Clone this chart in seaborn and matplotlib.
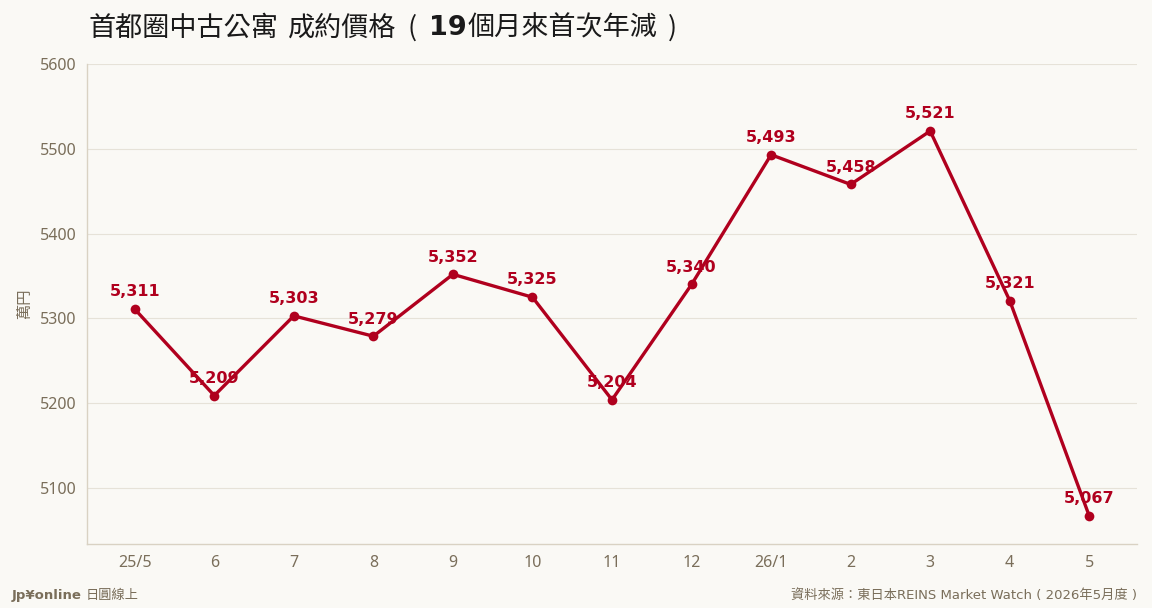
import matplotlib
matplotlib.use("Agg")
import matplotlib.pyplot as plt
import seaborn as sns
import pandas as pd

months = ["25/5", "6", "7", "8", "9", "10", "11", "12", "26/1", "2", "3", "4", "5"]
prices = [5311, 5209, 5303, 5279, 5352, 5325, 5204, 5340, 5493, 5458, 5521, 5321, 5067]
yticks = [5100, 5200, 5300, 5400, 5500, 5600]

BG = "#faf9f5"
RED = "#b0001e"
TXT = "#7a6e5a"
GRID = "#e6e2d8"
SPINE = "#d9d2c3"

sns.set_theme(style="white")
DJ = ["DejaVu Sans", "Noto Sans CJK TC"]
CJK = ["Noto Sans CJK TC", "DejaVu Sans"]
plt.rcParams["font.family"] = DJ

df = pd.DataFrame({"x": range(len(months)), "price": prices})

fig = plt.figure(figsize=(11.52, 6.08), dpi=100, facecolor=BG)
ax = fig.add_axes([87/1152, 1-544/608, (1137-87)/1152, (544-64)/608])
ax.set_facecolor(BG)

for i, v in enumerate(prices):
    ax.annotate(f"{v:,}", (i, v), xytext=(0, 7), textcoords="offset points",
                ha="center", va="bottom", color=RED, fontsize=11.5, fontweight="bold",
                family="DejaVu Sans", zorder=2)

sns.lineplot(data=df, x="x", y="price", ax=ax, color=RED, linewidth=2.4,
             marker="o", markersize=7, markeredgewidth=0, zorder=3)

ax.set_xlim(-0.6, len(months) - 1 + 0.6)
ax.set_ylim(5034, 5600)
ax.set_xticks(range(len(months)))
ax.set_xticklabels(months, family=["Noto Sans", "DejaVu Sans"])
ax.set_yticks(yticks)
ax.set_yticklabels([str(t) for t in yticks], family=["Noto Sans", "DejaVu Sans"])
ax.grid(axis="y", color=GRID, linewidth=0.8)
ax.set_axisbelow(True)
ax.tick_params(axis="both", colors=TXT, labelsize=11.5, length=4, width=0.8, color=SPINE)
ax.tick_params(axis="x", pad=4)
ax.set_xlabel("")
ax.set_ylabel("萬円", color=TXT, fontsize=11, family=CJK, labelpad=5)
for s in ["top", "right"]:
    ax.spines[s].set_visible(False)
for s in ["left", "bottom"]:
    ax.spines[s].set_color(SPINE)
    ax.spines[s].set_linewidth(1)

W, H = fig.bbox.width, fig.bbox.height
fig.canvas.draw()
r = fig.canvas.get_renderer()


def chain(pieces, x0, y, **common):
    x = x0
    for text, gap, kw in pieces:
        x += gap
        kwargs = dict(common)
        kwargs.update(kw)
        t = fig.text(x / W, y, text, va="center", ha="left", **kwargs)
        x = t.get_window_extent(r).x1


ty = 1 - 28/608
chain([
    ("首都圈中古公寓", 0, dict(family=CJK)),
    ("成約價格", 10, dict(family=CJK)),
    ("(", 11, dict(family=CJK)),
    ("19", 12, dict(family=DJ, fontweight="bold")),
    ("個月來首次年減", 1, dict(family=CJK)),
    (")", 11, dict(family=CJK)),
], 88, ty, fontsize=19.5, color="#1a1a1a")

fy = 1 - 595/608
chain([
    ("Jp¥online", 0, dict(family=DJ, fontweight="bold")),
    ("日圓線上", 4, dict(family=CJK)),
], 12, fy, fontsize=9.5, color=TXT)
fig.text(1137/1152, fy, "資料來源：東日本REINS Market Watch ( 2026年5月度 )", fontsize=9.5,
         color=TXT, family=DJ, va="center", ha="right")

fig.savefig("out.png", dpi=100, facecolor=BG)
